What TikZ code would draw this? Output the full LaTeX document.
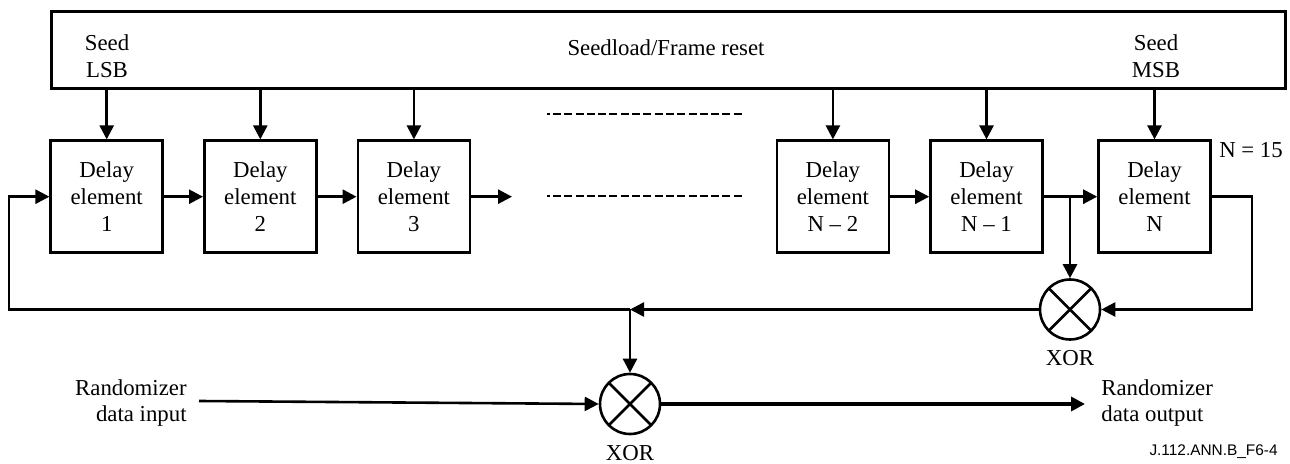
\documentclass[tikz,border=0pt]{standalone}
\usepackage{fontspec}
\setmainfont{Liberation Serif}
\setsansfont{Liberation Sans}
\usetikzlibrary{arrows.meta}
\tikzset{
	delay/.style={draw,line width=1.3pt,minimum width=56pt,minimum height=56pt,inner sep=0pt,align=center,font=\fontsize{11.4}{13.4}\selectfont},
	txt/.style={inner sep=0pt,align=center,font=\fontsize{11.4}{13.4}\selectfont},
	xorgate/.style={draw,circle,line width=1.3pt,minimum size=30pt,inner sep=0pt,path picture={
		\draw[line width=1.3pt] (path picture bounding box.north west) -- (path picture bounding box.south east);
		\draw[line width=1.3pt] (path picture bounding box.north east) -- (path picture bounding box.south west);}},
	wire/.style={line width=1.3pt},
	arrow/.style={wire,-{Triangle[length=7pt,width=7pt]}},
	dots/.style={line width=1.2pt,dash pattern=on 4pt off 1.65pt,dash phase=2.7pt}
}
\begin{document}
\begin{tikzpicture}[x=0.5pt,y=-0.5pt]
	\useasboundingbox (0,0) rectangle (1290,464);
	\node[draw,line width=1.3pt,minimum width=617pt,minimum height=38.5pt,inner sep=0pt,anchor=north west] (seedload) at (50,10) {};
	\node[txt] (lsb) at (107,56) {Seed\\LSB};
	\node[txt] (frame) at (666,48) {Seedload/Frame reset};
	\node[txt] (msb) at (1156,56) {Seed\\MSB};
	\matrix (delays) [anchor=west,inner sep=0pt,
	ampersand replacement=\&,
	column sep=19.5pt,
	nodes={delay}] at (49,196.7)
	{
		\node (d1) {Delay\\element\\1}; \& \node (d2) {Delay\\element\\2}; \& \node (d3) {Delay\\element\\3}; \&[132.7pt] \node (dn2) {Delay\\element\\N -- 2}; \& \node (dn1) {Delay\\element\\N -- 1}; \&[7.2pt] \node (dn) {Delay\\element\\N}; \\
	};
	\node[txt] (nval) at (1251,150) {N = 15};
	\node[xorgate] (xora) at (1070,309.5) {};
	\node[txt] (xoralab) at (1070,358) {XOR};
	\node[xorgate] (xorb) at (630,404) {};
	\node[txt] (xorblab) at (630,453) {XOR};
	\node[txt,align=right,anchor=east] (datain) at (187,403) {Randomizer\\data input};
	\node[txt,align=left,anchor=west] (dataout) at (1101,403) {Randomizer\\data output};
	\node[inner sep=0pt,anchor=east,font=\sffamily\fontsize{7.7}{9}\selectfont] (ref) at (1278,452) {J.112.ANN.B\_F6-4};
	\coordinate (d3out) at (512,196.7);
	\coordinate (dotsa) at (547,114);
	\coordinate (dotsb) at (743,114);
	\coordinate (dotsc) at (547,196);
	\coordinate (dotsd) at (743,196);
	\coordinate (inleft) at (199,401);
	\coordinate (outend) at (1085,404);
	\coordinate (loopleft) at (9,309.5);
	\coordinate (loopright) at (1252,196.7);
	\coordinate (tap) at (1070,196.7);
	\coordinate (join) at (630,309.5);
	% seed lines
	\foreach \n in {d1,d2,d3,dn2,dn1,dn}
		\draw[arrow] (\n |- seedload.south) -- (\n.north);
	\draw[arrow] (d1) -- (d2);
	\draw[arrow] (d2) -- (d3);
	\draw[arrow] (d3) -- (d3out);
	\draw[arrow] (dn2) -- (dn1);
	\draw[arrow] (dn1) -- (dn);
	\draw[dots] (dotsa) -- (dotsb);
	\draw[dots] (dotsc) -- (dotsd);
	% feedback
	\draw[arrow] (tap) -- (xora.north);
	\draw[arrow] (dn.east) -- (loopright) |- (xora.east);
	\draw[arrow] (xora.west) -- (join);
	\draw[arrow] (join) -- (loopleft) |- (d1.west);
	\draw[arrow] (join) -- (xorb.north);
	\draw[arrow] (inleft) -- (xorb.west);
	\draw[arrow,line width=2pt] (xorb.east) -- (outend);
\end{tikzpicture}
\end{document}
